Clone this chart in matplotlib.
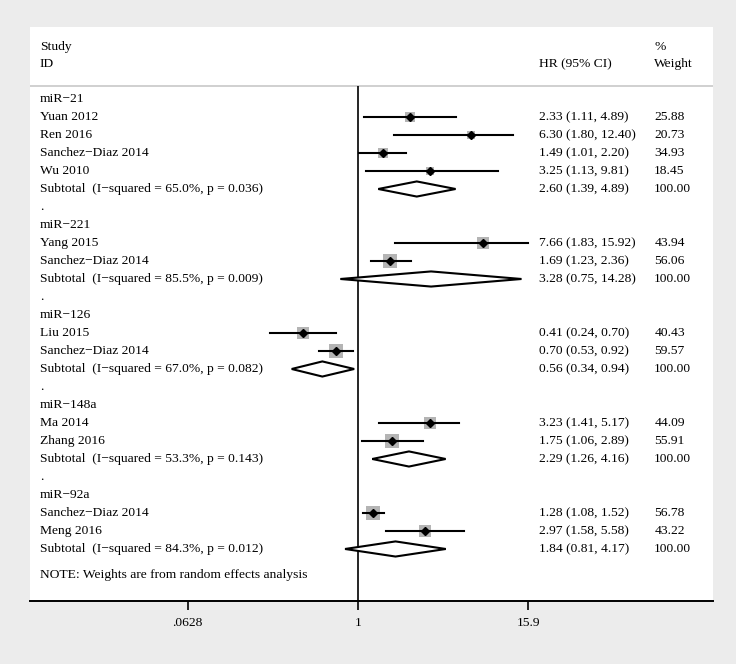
import numpy as np
import matplotlib.pyplot as plt

plt.rcParams['font.family'] = ['Liberation Serif', 'DejaVu Serif']

# groups of studies
groups = ["miR\u221221", "miR\u2212221", "miR\u2212126", "miR\u2212148a", "miR\u221292a"]
studies = [
    ["Yuan 2012", "Ren 2016", "Sanchez\u2212Diaz 2014", "Wu 2010"],
    ["Yang 2015", "Sanchez\u2212Diaz 2014"],
    ["Liu 2015", "Sanchez\u2212Diaz 2014"],
    ["Ma 2014", "Zhang 2016"],
    ["Sanchez\u2212Diaz 2014", "Meng 2016"],
]
hr = [[2.33, 6.30, 1.49, 3.25], [7.66, 1.69], [0.41, 0.70], [3.23, 1.75], [1.28, 2.97]]
lo = [[1.11, 1.80, 1.01, 1.13], [1.83, 1.23], [0.24, 0.53], [1.41, 1.06], [1.08, 1.58]]
hi = [[4.89, 12.40, 2.20, 9.81], [15.92, 2.36], [0.70, 0.92], [5.17, 2.89], [1.52, 5.58]]
weight = [[25.88, 20.73, 34.93, 18.45], [43.94, 56.06], [40.43, 59.57], [44.09, 55.91], [56.78, 43.22]]

sub_hr = [2.60, 3.28, 0.56, 2.29, 1.84]
sub_lo = [1.39, 0.75, 0.34, 1.26, 0.81]
sub_hi = [4.89, 14.28, 0.94, 4.16, 4.17]
i2 = [65.0, 85.5, 67.0, 53.3, 84.3]
pval = [0.036, 0.009, 0.082, 0.143, 0.012]

xticks = [0.0628, 1, 15.9]
xticklabels = [".0628", "1", "15.9"]

W, H = 736, 664
fig = plt.figure(figsize=(W / 100, H / 100), dpi=100, facecolor='#ececec')
ax = fig.add_axes([30 / W, 1 - 601 / H, 683 / W, 574 / H])
ax.set_facecolor('white')
ax.set_xscale('log')
ax.set_xlim(np.exp(-5.333), np.exp(5.772))
ax.set_ylim(27.89, -4)

fs = 9.7
tr = ax.get_yaxis_transform()  # x in axes coords, y in data
xl, xhr, xw = 0.0146, 0.745, 0.914

ax.text(xl, -2.89, "Study", transform=tr, fontsize=fs, va='center')
ax.text(xl, -1.94, "ID", transform=tr, fontsize=fs, va='center')
ax.text(xhr, -1.94, "HR (95% CI)", transform=tr, fontsize=fs, va='center')
ax.text(xw, -2.89, "%", transform=tr, fontsize=fs, va='center')
ax.text(xw, -1.94, "Weight", transform=tr, fontsize=fs, va='center')
ax.axhline(-0.72, color='#c8c8c8', lw=1.2)
ax.vlines(1, -0.72, 27.89, color='black', lw=1.2)

row = 0
for g in range(len(groups)):
    if g > 0:
        ax.text(xl, row, ".", transform=tr, fontsize=fs, va='center')
        row += 1
    ax.text(xl, row, groups[g], transform=tr, fontsize=fs, va='center')
    row += 1
    for k in range(len(studies[g])):
        ax.text(xl, row, studies[g][k], transform=tr, fontsize=fs, va='center')
        ax.text(xhr, row, f"{hr[g][k]:.2f} ({lo[g][k]:.2f}, {hi[g][k]:.2f})",
                transform=tr, fontsize=fs, va='center')
        ax.text(xw, row, f"{weight[g][k]:.2f}", transform=tr, fontsize=fs, va='center')
        side = 1.85 * np.sqrt(weight[g][k]) * 0.72
        ax.scatter(hr[g][k], row, s=side ** 2, marker='s', color='#b4b4b4', zorder=2, linewidths=0)
        ax.plot([lo[g][k], hi[g][k]], [row, row], color='black', lw=1.5, zorder=3)
        ax.plot(hr[g][k], row, marker='D', color='black', ms=4, zorder=4)
        row += 1
    ax.text(xl, row, f"Subtotal  (I\u2212squared = {i2[g]:.1f}%, p = {pval[g]:.3f})",
            transform=tr, fontsize=fs, va='center')
    ax.text(xhr, row, f"{sub_hr[g]:.2f} ({sub_lo[g]:.2f}, {sub_hi[g]:.2f})",
            transform=tr, fontsize=fs, va='center')
    ax.text(xw, row, "100.00", transform=tr, fontsize=fs, va='center')
    ax.fill([sub_lo[g], sub_hr[g], sub_hi[g], sub_hr[g]],
            [row, row - 0.42, row, row + 0.42],
            facecolor='white', edgecolor='black', lw=1.5, zorder=3)
    row += 1

ax.text(xl, 26.44, "NOTE: Weights are from random effects analysis", transform=tr,
        fontsize=fs, va='center')

for s in ['top', 'left', 'right']:
    ax.spines[s].set_visible(False)
ax.spines['bottom'].set_linewidth(1.4)
ax.set_yticks([])
ax.set_xticks(xticks)
ax.set_xticklabels(xticklabels)
ax.minorticks_off()
ax.tick_params(axis='x', direction='out', length=6.5, width=1.2, labelsize=fs, pad=5)

fig.savefig("out.png", dpi=100, facecolor=fig.get_facecolor())
